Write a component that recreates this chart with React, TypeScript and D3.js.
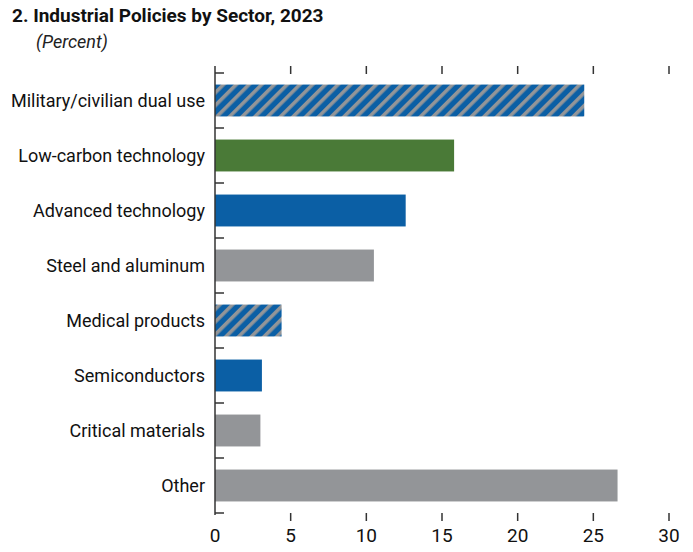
import React from 'react';
import * as d3 from 'd3';

const categories = [
  'Military/civilian dual use',
  'Low-carbon technology',
  'Advanced technology',
  'Steel and aluminum',
  'Medical products',
  'Semiconductors',
  'Critical materials',
  'Other',
];
const values = [24.4, 15.8, 12.6, 10.5, 4.4, 3.1, 3.0, 26.6];
const fills = ['hatch', 'green', 'blue', 'gray', 'hatch', 'blue', 'gray', 'gray'];
const xTicks = [0, 5, 10, 15, 20, 25, 30];

const BLUE = '#0b5fa5';
const GREEN = '#4a7a37';
const GRAY = '#939598';
const FONT = '"Liberation Sans Narrow", "Roboto", "Liberation Sans", sans-serif';

const colorOf = (k: string) =>
  k === 'hatch' ? 'url(#hatch)' : k === 'green' ? GREEN : k === 'blue' ? BLUE : GRAY;

export default function App() {
  const width = 693, height = 552;
  const x = d3.scaleLinear().domain([0, 30]).range([215, 669]);
  const y = d3.scaleBand().domain(categories).range([73, 513]).paddingInner(0.42).paddingOuter(0.21);
  const band = d3.scaleBand().domain(categories).range([73, 513]);

  return (
    <svg width={width} height={height} style={{ display: 'block', margin: '-8px' }}>
      <defs>
        <pattern id="hatch" width="9" height="9" patternUnits="userSpaceOnUse" patternTransform="rotate(45)">
          <rect width="9" height="9" fill={BLUE} />
          <rect width="3.6" height="9" fill={GRAY} />
        </pattern>
      </defs>
      <text x={12} y={22} fontFamily={FONT} fontWeight="bold" fontSize={19} fill="#111">
        2. Industrial Policies by Sector, 2023
      </text>
      <text x={36} y={48} fontFamily={FONT} fontStyle="italic" fontSize={18} fill="#222">
        (Percent)
      </text>

      {categories.map((c, i) => (
        <g key={c}>
          <rect x={x(0)} y={y(c)} width={x(values[i]) - x(0)} height={y.bandwidth()} fill={colorOf(fills[i])} />
          <text
            x={205}
            y={(band(c) as number) + band.bandwidth() / 2}
            dy="0.35em"
            textAnchor="end"
            fontFamily={FONT}
            fontSize={18}
            fill="#111"
          >
            {c}
          </text>
        </g>
      ))}

      {/* left axis */}
      <line x1={x(0)} x2={x(0)} y1={66} y2={515} stroke="#333" strokeWidth={1.5} />
      {categories.map((c) => (
        <line key={'t' + c} x1={x(0)} x2={x(0) + 9} y1={band(c)} y2={band(c)} stroke="#333" strokeWidth={1.5} />
      ))}
      <line x1={x(0)} x2={x(0) + 9} y1={513} y2={513} stroke="#333" strokeWidth={1.5} />

      {/* top ticks */}
      {xTicks.filter((t) => t > 0).map((t) => (
        <line key={'tt' + t} x1={x(t)} x2={x(t)} y1={66} y2={74} stroke="#333" strokeWidth={1.5} />
      ))}
      {/* bottom ticks + labels */}
      {xTicks.map((t) => (
        <g key={'bt' + t}>
          {t > 0 && <line x1={x(t)} x2={x(t)} y1={513} y2={521} stroke="#333" strokeWidth={1.5} />}
          <text x={x(t)} y={542} textAnchor="middle" fontFamily={FONT} fontSize={19} fill="#111">
            {t}
          </text>
        </g>
      ))}
    </svg>
  );
}
